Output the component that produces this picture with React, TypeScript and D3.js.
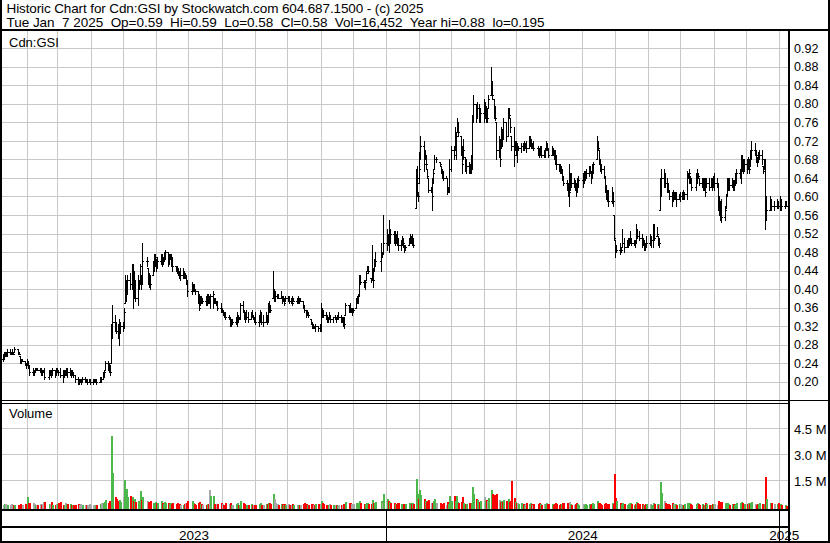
import React from "react";
import * as d3 from "d3";

// ---------- DATA (prices in cents, volume in thousands of shares) ----------
// One entry per trading day, Jan 9 2023 .. Jan 7 2025 (TSX-V calendar)
const high2023 = [
  // Jan
  26, 26.5, 26.5, 26.5, 27, 27, 26.5, 27, 26.5, 27.5, 27, 26.5, 25.5, 25, 25, 24.5, 24,
  // Feb
  25, 24.5, 23.5, 23, 22.5, 23, 23, 23, 23, 23, 22.5, 22.5, 23, 22.5, 22.5, 22.5, 23, 22.5, 23,
  // Mar
  23, 22.5, 23, 22.5, 22.5, 22.5, 23, 23, 23, 22.5, 22.5, 22, 21.5, 21, 20.5, 20.5, 20.5, 21, 21, 20.5, 20.5, 20.5, 20.5,
  // Apr
  20.5, 20.5, 20.5, 20.5, 21, 21, 22, 22.5, 24.5, 24.5, 24, 23.5, 32.5, 36.5, 34.5, 33, 32.5, 33.5, 33,
  // May
  33, 36, 43, 42, 43, 43.5, 45.5, 45.5, 44, 42, 43, 42, 45.5, 43, 50, 47, 44.5, 43.5, 43, 46, 47.5, 47.5,
  // Jun
  46.5, 47, 47.5, 47.5, 47, 48, 48.5, 48, 47.5, 47.5, 47.5, 47, 45, 45, 44.5, 44, 44.5, 44.5, 44, 43.5, 43, 42,
  // Jul
  41.5, 41, 41, 40, 39.5, 39, 38.5, 38.5, 38, 38.5, 39, 39, 38.5, 39, 39.5, 38, 38, 37.5, 37.5, 37,
  // Aug
  36, 35.5, 35, 35, 34.5, 34, 33.5, 33.5, 34, 35, 34.5, 34, 37, 37.5, 35.5, 35, 35.5, 35, 35, 35.5, 34.5, 34,
  // Sep
  35, 34.5, 35.5, 35, 34.5, 35, 34.5, 37, 37.5, 36.5, 44, 40, 39.5, 39, 39, 39.5, 38.5, 38.5, 38, 38.5,
  // Oct
  38.5, 38.5, 38, 38.5, 38, 38, 38.5, 38, 38, 37.5, 36.5, 35.5, 35.5, 35, 33.5, 33, 32.5, 32, 32.5, 32, 32.5,
  // Nov
  37, 36, 35.5, 35, 34.5, 34, 35, 34.5, 34, 34.5, 34, 34.5, 35, 34.5, 34, 34, 34, 37, 36.5, 37, 36, 36,
  // Dec
  36, 38, 38.5, 39, 43, 43, 42, 42, 44, 45, 45, 42.5, 49.5, 44.5, 46.5, 48, 50, 48, 56,
];
const low2023 = [
  24.5, 25, 25.5, 25.5, 25.5, 26, 26, 26, 26, 26.5, 26, 26, 24, 24, 24.5, 23.5, 23,
  23.5, 23, 21.5, 21.5, 21.5, 22, 22.5, 22.5, 22, 21.5, 21.5, 22, 20.5, 20.5, 21.5, 21, 21.5, 21, 21.5,
  22, 21.5, 21, 20, 21, 21.5, 21.5, 21, 21.5, 21, 21.5, 21, 20, 19.5, 19.5, 20, 19.5, 20, 20, 20, 19.5, 20, 19.5,
  19.5, 20, 20, 19.5, 20, 20, 20.5, 21, 22.5, 22.5, 22, 21.5, 24, 29.5, 31, 30.5, 29.5, 28, 30.5,
  31, 31.5, 37, 37.5, 39, 40, 40, 36, 38, 37.5, 36.5, 40, 41, 40, 41, 45, 41, 40.5, 40, 43, 44, 45,
  44, 44.5, 45.5, 45, 45.5, 46, 46.5, 45, 45.5, 46.5, 45, 44, 44, 43.5, 43, 42.5, 42, 42.5, 42.5, 42.5, 41, 38.5,
  39, 39.5, 39.5, 39, 37, 35.5, 36.5, 37, 37, 36.5, 36.5, 37, 37, 36, 36, 37, 37, 36.5, 35.5, 35,
  35, 34.5, 34, 33.5, 33.5, 32, 32, 32.5, 32.5, 32, 33, 33.5, 33.5, 35, 33.5, 33, 33.5, 33, 33.5, 34, 33.5, 33,
  32.5, 32, 33, 32.5, 32, 33, 32.5, 33, 35, 35, 38, 37.5, 37.5, 38, 38, 38, 37, 37.5, 36.5, 37.5,
  37.5, 37, 37, 36.5, 37.5, 37, 37, 37, 37.5, 36, 35, 34, 34.5, 34, 32.5, 31.5, 31.5, 31.5, 31, 31, 31,
  31, 34, 34, 33.5, 33, 33, 33.5, 33, 33, 33.5, 33, 33.5, 33.5, 33, 33, 32, 31.5, 34.5, 35, 35, 35, 34.5,
  35, 36, 37, 37, 38.5, 41, 40.5, 40, 42, 44, 43.5, 41.5, 42, 40.5, 44, 45, 44, 47, 47.5,
];
const close2023 = [
  25, 26, 26, 26, 26.5, 26.5, 26.5, 26.5, 26, 27, 26.5, 26, 25, 24.5, 24.5, 24, 23.5,
  24, 23.5, 22, 22, 22, 23, 23, 22.5, 22.5, 22, 22, 22, 21, 22, 22, 21.5, 22.5, 22, 22,
  22.5, 22, 21.5, 21, 22, 22, 22.5, 22, 22.5, 21.5, 22, 21.5, 20.5, 20, 20, 20, 20, 20.5, 20.5, 20, 20, 20, 20,
  20, 20, 20.5, 20, 20.5, 20.5, 21.5, 22, 24, 23, 22.5, 22, 31, 33, 32, 31, 30, 31, 32,
  32, 35, 39, 41, 42, 41, 45, 38, 40, 38, 40, 41, 45, 41, 46, 46, 43, 42, 41, 45, 46, 47,
  45, 46, 47, 46, 46.5, 47, 48, 46, 46.5, 47, 46, 45, 44.5, 44, 43.5, 43, 43, 43.5, 43, 43, 41.5, 39.5,
  40, 40.5, 40, 39.5, 37.5, 36, 38, 37.5, 37.5, 37, 38.5, 38, 38, 38.5, 39, 37.5, 37, 37, 36, 35.5,
  35.5, 35, 34.5, 34, 34, 32.5, 33, 33, 33.5, 34.5, 33.5, 34, 36.5, 35.5, 34, 33.5, 34, 33.5, 34.5, 34, 34, 33.5,
  33, 33.5, 35, 33, 33, 34, 33, 36.5, 36, 35.5, 38.5, 38.5, 38.5, 38.5, 38, 38.5, 37.5, 38, 37, 38,
  38, 37.5, 37.5, 37, 37.5, 37.5, 38, 37.5, 37.5, 36.5, 35.5, 34.5, 35, 34.5, 33, 32, 32, 31.5, 32, 31.5, 31.5,
  36, 35, 34.5, 34, 33.5, 34, 34, 33.5, 34, 34, 33.5, 34, 34, 33.5, 33.5, 33, 32.5, 36.5, 36, 35.5, 35.5, 35.5,
  35.5, 37.5, 38, 38.5, 42, 41.5, 41, 41.5, 43.5, 44.5, 44, 42, 43.5, 42, 45, 46, 47.5, 47.5, 50,
];
const volume2023 = [
  60, 110, 90, 80, 70, 60, 90, 40, 50, 70, 30, 60, 110, 70, 60, 90, 100,
  530, 180, 170, 200, 100, 60, 80, 40, 120, 60, 140, 250, 260, 100, 130, 220, 80, 60, 120,
  100, 150, 230, 80, 60, 200, 90, 100, 130, 70, 40, 60, 80, 90, 60, 100, 40, 50, 30, 70, 60, 120, 80,
  60, 40, 80, 50, 110, 150, 170, 250, 320, 200, 270, 230, 4060, 1890, 550, 400, 300, 350, 250,
  500, 1500, 300, 1000, 550, 600, 500, 300, 400, 250, 300, 200, 860, 350, 500, 300, 250, 200, 280, 200, 150, 250,
  200, 150, 300, 180, 120, 250, 200, 150, 100, 180, 130, 200, 100, 150, 90, 120, 80, 60, 100, 150, 200, 300,
  300, 150, 100, 80, 200, 250, 120, 100, 80, 60, 130, 100, 900, 600, 600, 100, 50, 100, 120, 150,
  100, 80, 60, 150, 90, 200, 60, 50, 120, 200, 80, 60, 300, 150, 120, 60, 80, 50, 90, 70, 60, 40,
  80, 100, 150, 60, 80, 120, 90, 200, 150, 100, 700, 400, 150, 100, 80, 120, 90, 60, 100, 80,
  100, 80, 60, 90, 70, 50, 80, 60, 70, 120, 150, 100, 80, 60, 130, 110, 80, 60, 90, 100, 120,
  300, 150, 100, 80, 60, 70, 90, 50, 60, 80, 50, 60, 70, 40, 60, 90, 120, 250, 200, 150, 100, 120,
  100, 150, 200, 120, 300, 150, 100, 120, 200, 180, 120, 100, 350, 200, 150, 250, 300, 150, 700,
];

const high2024 = [
  // Jan
  53, 52, 55, 53, 52.5, 52.5, 52, 52.5, 51, 50.5, 51.5, 51, 49.5, 49.5, 51, 52, 51.5, 52, 51, 66, 66.5, 61,
  // Feb
  69.5, 73, 72, 70, 69, 66, 64, 62, 64, 66, 69, 68.5, 67.5, 66.5, 66, 65.5, 64.5, 64, 62, 68,
  // Mar
  71, 71, 75, 74, 77, 76, 73, 71, 72.5, 68.5, 68, 67.5, 67, 69, 77.5, 82, 80, 80.5, 80, 79,
  // Apr
  81, 80.5, 79.5, 79, 82, 88, 85, 81, 79.5, 76, 73, 72.5, 75, 74.5, 77, 76, 79, 79, 77, 73, 75, 72,
  // May
  72, 71.5, 71, 71.5, 71.5, 72, 71.5, 72, 73, 73, 72.5, 71.5, 72, 71, 70.5, 71, 71, 70, 70.5, 72, 71.5, 70.5,
  // Jun
  71, 70.5, 70, 70, 69, 67, 67, 66.5, 66, 64.5, 63.5, 63, 67, 65, 65, 64, 63.5, 63, 64, 64.5,
  // Jul
  65, 65.5, 65.5, 66, 66.5, 66.5, 65.5, 67, 67.5, 73, 72, 70, 68, 67, 66.5, 64.5, 62.5, 61.5, 61.5, 62, 61, 56,
  // Aug
  50.5, 49.5, 50, 49, 53, 51, 50.5, 51, 51, 52.5, 51, 50.5, 50.5, 54, 53, 52.5, 52, 51, 50.5, 50, 51.5,
  // Sep
  52, 51.5, 54, 54, 53.5, 51.5, 51, 64, 66, 66, 65, 64, 63, 61.5, 61, 61.5, 61, 61, 61, 60.5,
  // Oct
  61, 61, 61.5, 61, 65.5, 65, 66, 64.5, 64, 65, 66, 65, 64, 64, 64, 64, 64, 64, 64, 64, 64, 64.5,
  // Nov
  65, 64, 63, 60, 59, 59.5, 58, 60.5, 64, 64, 64, 64, 63.5, 63.5, 65, 66, 66, 69, 69, 68, 68,
  // Dec
  68, 68.5, 68, 70, 72, 71.5, 70, 68.5, 69.5, 70, 70, 66.5, 68, 68, 60, 60, 59.5, 59, 59.5, 59,
];
const low2024 = [
  48.5, 49.5, 48, 50, 50, 49.5, 50, 49.5, 48.5, 48.5, 49.5, 49, 48, 48.5, 49.5, 50, 50, 49.5, 49, 57.5, 60, 59,
  63, 68, 65.5, 68, 66, 64, 61, 61, 57, 63, 66, 67.5, 66.5, 65, 64, 63.5, 64, 60.5, 61, 61,
  65.5, 68, 70, 68, 74, 73, 69, 65, 68, 65.5, 65, 65, 65, 65, 66, 76, 76, 77, 76, 76,
  76, 77, 76, 76, 79, 82, 81, 77, 76.5, 68, 68.5, 66.5, 70.5, 71, 72.5, 72, 73, 77, 74, 70, 66.5, 70,
  69, 67.5, 70, 69.5, 70, 70, 70.5, 69.5, 70.5, 71, 70.5, 70.5, 70, 69, 68.5, 69, 68.5, 68.5, 68.5, 70, 70, 68.5,
  69, 69, 68, 67, 66, 65.5, 65, 65, 63.5, 62.5, 61.5, 60, 58, 61.5, 62, 62, 61.5, 60, 61, 62,
  62, 63, 63.5, 64, 64.5, 65, 63, 64, 65, 68, 70, 67, 65.5, 65, 64, 61, 59.5, 59, 58, 58.5, 58, 50.5,
  47, 48, 47.5, 48, 49, 48, 49, 49, 49.5, 50, 49.5, 49.5, 49, 50, 51, 50.5, 49, 49.5, 48.5, 48.5, 49,
  49.5, 49, 49, 50.5, 51.5, 49.5, 49, 57, 60, 62, 62, 61, 61, 59.5, 58, 59, 59.5, 59.5, 58, 59.5,
  59, 59.5, 59.5, 59.5, 59.5, 64, 63, 63, 61.5, 61.5, 63, 64, 62.5, 62, 61.5, 61.5, 60, 62, 61.5, 62, 61.5, 62,
  61.5, 62, 57, 56, 55, 54.5, 55, 57.5, 60, 61.5, 61.5, 62, 61.5, 61.5, 62.5, 63, 64, 63, 65.5, 65, 65.5,
  65, 66, 65, 66.5, 68, 69, 67.5, 66.5, 67.5, 68, 67, 65, 66, 53, 55, 57, 57, 57, 57.5, 57.5,
];
const close2024 = [
  52, 50, 53, 52, 51, 51.5, 50.5, 50, 49.5, 50, 50.5, 50, 48.5, 49, 50.5, 51.5, 50.5, 51, 49.5, 62, 64, 60,
  66, 71, 67, 69, 67, 64.5, 61.5, 61.5, 60, 65, 68, 68, 67, 65.5, 64.5, 64, 64, 61, 61.5, 66,
  70, 69, 71, 73, 75, 74, 70, 67, 70, 66, 66.5, 66, 65.5, 68, 76, 80, 77, 79, 77, 78,
  78, 79, 77, 77, 81, 85, 82, 78, 77, 70, 70, 68, 74, 73, 76, 73, 78, 77.5, 75, 71, 69, 71,
  70, 70, 70.5, 71, 70.5, 71, 71, 70.5, 72, 72.5, 71, 71, 70.5, 69.5, 69, 70, 69, 69, 70, 71, 70.5, 69,
  70, 69.5, 69, 67.5, 67, 66, 65.5, 66, 64, 63, 62, 61, 61, 64, 63, 63, 62.5, 61, 63, 63.5,
  63.5, 64, 64.5, 65, 66, 65.5, 64, 66, 67, 72, 70.5, 68, 67, 66, 64.5, 62, 60.5, 60, 59, 60, 59, 51,
  48, 48.5, 48, 48.5, 50, 49, 49.5, 50, 50.5, 51, 50, 50.5, 50, 52, 51.5, 51, 50, 50.5, 49.5, 49, 50,
  50, 50.5, 52, 51, 52, 50, 50, 63, 64, 64, 63, 62, 61.5, 60, 59.5, 60, 60, 60.5, 59.5, 60,
  60, 60.5, 60, 60.5, 64, 64.5, 65, 63.5, 62, 64, 65, 64.5, 63, 63.5, 62.5, 63, 61, 63, 62, 63.5, 62.5, 63,
  63, 63, 58, 57, 56, 55.5, 57, 60, 62, 63, 62.5, 63, 62, 63, 64.5, 65, 65.5, 68, 67, 66, 67,
  66, 67, 66, 69, 70, 70, 69, 68, 68.5, 69, 68, 65.5, 67, 56, 57, 59, 58, 58, 59, 58,
];
const volume2024 = [
  400, 300, 250, 200, 150, 120, 100, 180, 150, 100, 130, 120, 90, 100, 150, 200, 120, 150, 100, 1550, 700, 400,
  950, 650, 400, 300, 250, 300, 350, 150, 200, 300, 400, 200, 150, 120, 100, 150, 80, 250, 100, 600,
  300, 600, 300, 600, 250, 200, 250, 500, 200, 120, 100, 150, 80, 200, 1100, 700, 400, 350, 250, 300,
  500, 300, 350, 300, 450, 900, 700, 650, 500, 700, 350, 250, 300, 250, 350, 300, 400, 250, 300, 1440, 450, 250,
  200, 150, 100, 200, 120, 80, 100, 150, 120, 200, 100, 80, 120, 90, 150, 100, 80, 120, 100, 150, 90, 120,
  100, 80, 120, 150, 100, 60, 90, 120, 150, 200, 180, 150, 250, 100, 80, 60, 120, 150, 100, 80,
  100, 80, 120, 60, 90, 50, 100, 150, 120, 300, 200, 150, 100, 80, 120, 150, 90, 60, 120, 150, 100, 1850,
  490, 300, 150, 100, 200, 120, 80, 100, 150, 200, 100, 80, 120, 250, 150, 100, 120, 80, 60, 90, 100,
  100, 80, 150, 90, 120, 80, 100, 1380, 750, 300, 150, 120, 100, 80, 150, 100, 120, 90, 60, 100,
  100, 80, 60, 90, 200, 120, 150, 100, 80, 120, 200, 90, 60, 100, 80, 70, 150, 90, 60, 80, 100, 90,
  100, 80, 300, 250, 200, 220, 150, 180, 200, 100, 80, 120, 90, 60, 100, 200, 150, 250, 180, 100, 120,
  100, 150, 120, 200, 250, 100, 80, 120, 90, 150, 100, 80, 120, 1670, 400, 200, 150, 100, 120, 150,
];

const high2025 = [60, 59.5, 59, 59];
const low2025 = [57, 57, 57.5, 58];
const close2025 = [59, 58, 59, 58];
const volume2025 = [100, 80, 60, 16.452];

const holidays = [
  "2023-02-20", "2023-04-07", "2023-05-22", "2023-07-03", "2023-08-07", "2023-09-04",
  "2023-10-09", "2023-12-25", "2023-12-26", "2024-01-01", "2024-02-19", "2024-03-29",
  "2024-05-20", "2024-07-01", "2024-08-05", "2024-09-02", "2024-10-14", "2024-12-25",
  "2024-12-26", "2025-01-01",
];

const priceTicks = [0.2, 0.24, 0.28, 0.32, 0.36, 0.4, 0.44, 0.48, 0.52, 0.56, 0.6, 0.64, 0.68, 0.72, 0.76, 0.8, 0.84, 0.88, 0.92];
const volumeTicks = [1.5e6, 3.0e6, 4.5e6];
const volumeTickLabels = ["1.5 M", "3.0 M", "4.5 M"];
const years = [2023, 2024, 2025];

const titleLine1 = "Historic Chart for Cdn:GSI by Stockwatch.com 604.687.1500 - (c) 2025";
const titleLine2 = "Tue Jan  7 2025  Op=0.59  Hi=0.59  Lo=0.58  Cl=0.58  Vol=16,452  Year hi=0.88  lo=0.195";

// ---------- helpers ----------
function tradingDays(start: Date, end: Date): Date[] {
  const fmt = d3.timeFormat("%Y-%m-%d");
  const hol = new Set(holidays);
  return d3.timeDay.range(start, d3.timeDay.offset(end, 1)).filter((d) => {
    const wd = d.getDay();
    return wd !== 0 && wd !== 6 && !hol.has(fmt(d));
  });
}

const FONT = "'Liberation Sans', Arial, Helvetica, sans-serif";

export default function App() {
  const W = 830;
  const H = 543;
  const plotL = 2;
  const axisX = 788; // right axis line (2px wide)
  const priceTop = 31;
  const volBottom = 509;

  const dates = tradingDays(new Date(2023, 0, 9), new Date(2025, 0, 7));
  const hi = [...high2023, ...high2024, ...high2025];
  const lo = [...low2023, ...low2024, ...low2025];
  const cl = [...close2023, ...close2024, ...close2025];
  const vol = [...volume2023, ...volume2024, ...volume2025];
  const n = Math.min(dates.length, hi.length, lo.length, cl.length, vol.length);
  const bars = d3.range(n).map((i) => ({
    date: dates[i],
    hi: hi[i] / 100,
    lo: lo[i] / 100,
    cl: cl[i] / 100,
    op: (i > 0 ? cl[i - 1] : cl[i]) / 100,
    vol: vol[i] * 1000,
    prev: i > 0 ? cl[i - 1] : cl[i],
    c: cl[i],
  }));

  const x = d3
    .scaleTime()
    .domain([new Date(2023, 0, 1), new Date(2025, 0, 1)])
    .range([-6, 779.3]);
  const yP = d3.scaleLinear().domain([0.2, 0.92]).range([381.7, 48.3]);
  const yV = d3.scaleLinear().domain([0, 4.5e6]).range([506, 428.3]);

  const months = d3.timeMonth.range(new Date(2023, 1, 1), new Date(2025, 0, 8));
  const grid = "#c8c8c8";

  const yearCenters = years.map((yr) => {
    const a = Math.max(x(new Date(yr, 0, 1)), plotL);
    const b = Math.min(x(new Date(yr + 1, 0, 1)), axisX + 1);
    return { yr, cx: (a + b) / 2 };
  });
  const yearLines = years.slice(1).map((yr) => Math.round(x(new Date(yr, 0, 1))) + 0.5);

  return (
    <svg
      width={W}
      height={H}
      viewBox={`0 0 ${W} ${H}`}
      style={{ position: "absolute", left: 0, top: 0, background: "#fff", display: "block" }}
      fontFamily={FONT}
    >
      <rect x={0} y={0} width={W} height={H} fill="#fff" />

      {/* header */}
      <text x={6.5} y={12.5} fontSize={13.5} fill="#000" textLength={417} lengthAdjust="spacing">
        {titleLine1}
      </text>
      <text
        x={6.5}
        y={26.5}
        fontSize={13.5}
        fill="#000"
        textLength={538}
        lengthAdjust="spacing"
        style={{ whiteSpace: "pre" }}
        xmlSpace="preserve"
      >
        {titleLine2}
      </text>

      {/* gridlines */}
      <g shapeRendering="crispEdges">
        {months.map((m, i) => {
          const xx = Math.round(x(m)) + 0.5;
          return (
            <line key={"vg" + i} x1={xx} x2={xx} y1={priceTop} y2={volBottom} stroke={grid} strokeWidth={1} />
          );
        })}
        {priceTicks.map((p, i) => {
          const yy = Math.round(yP(p)) + 0.5;
          return <line key={"pg" + i} x1={plotL} x2={axisX} y1={yy} y2={yy} stroke={grid} strokeWidth={1} />;
        })}
        {volumeTicks.map((v, i) => {
          const yy = Math.round(yV(v)) + 0.5;
          return <line key={"vgl" + i} x1={plotL} x2={axisX} y1={yy} y2={yy} stroke={grid} strokeWidth={1} />;
        })}
      </g>

      {/* price bars (HLC with open tick) */}
      <g shapeRendering="crispEdges" fill="#000">
        {bars.map((b, i) => {
          const xx = Math.round(x(b.date));
          const y1 = Math.round(yP(b.hi));
          const y2 = Math.round(yP(b.lo));
          const yc = Math.min(Math.max(Math.round(yP(b.cl)), y1), y2);
          const yo = Math.min(Math.max(Math.round(yP(b.op)), y1), y2);
          return (
            <g key={"b" + i}>
              <rect x={xx} y={y1} width={1} height={Math.max(1, y2 - y1 + 1)} />
              <rect x={xx - 1} y={yo} width={1} height={1} />
              <rect x={xx + 1} y={yc} width={1} height={1} />
            </g>
          );
        })}
      </g>

      {/* volume bars */}
      <g shapeRendering="crispEdges">
        {bars.map((b, i) => {
          const xx = Math.round(x(b.date));
          const top = Math.min(Math.round(yV(b.vol)), volBottom - 1);
          const color = b.c > b.prev ? "#4cb84c" : b.c < b.prev ? "#ff0000" : "#a8a8a8";
          return <rect key={"v" + i} x={xx} y={top} width={2} height={volBottom - top} fill={color} />;
        })}
      </g>

      {/* frame lines */}
      <g shapeRendering="crispEdges" fill="#000">
        <rect x={0} y={29} width={W} height={2} />
        <rect x={0} y={400} width={axisX} height={1} />
        <rect x={0} y={403} width={axisX} height={1} />
        <rect x={axisX} y={400} width={W - axisX} height={1} />
        <rect x={0} y={volBottom} width={axisX} height={2} />
        <rect x={0} y={526} width={axisX} height={2} />
        <rect x={0} y={H - 2} width={W} height={2} />
        <rect x={0} y={0} width={2} height={H} />
        <rect x={W - 2} y={0} width={2} height={H} />
        <rect x={axisX} y={29} width={2} height={H - 29} />
        {yearLines.map((xx, i) => (
          <line key={"yl" + i} x1={xx} x2={xx} y1={511} y2={H - 2} stroke="#000" strokeWidth={1} />
        ))}
      </g>

      {/* labels */}
      <text x={9} y={46.5} fontSize={13} fill="#000">
        Cdn:GSI
      </text>
      <text x={9} y={418} fontSize={13} fill="#000">
        Volume
      </text>

      {priceTicks.map((p, i) => (
        <text key={"pt" + i} x={794} y={yP(p) + 4.6} fontSize={12.5} fill="#000">
          {p.toFixed(2)}
        </text>
      ))}
      {volumeTicks.map((v, i) => (
        <text key={"vt" + i} x={794} y={yV(v) + 6} fontSize={13} fill="#000">
          {volumeTickLabels[i]}
        </text>
      ))}
      {yearCenters.map((d) => (
        <text key={"y" + d.yr} x={d.cx} y={539.5} fontSize={13.5} fill="#000" textAnchor="middle">
          {d.yr}
        </text>
      ))}
    </svg>
  );
}
